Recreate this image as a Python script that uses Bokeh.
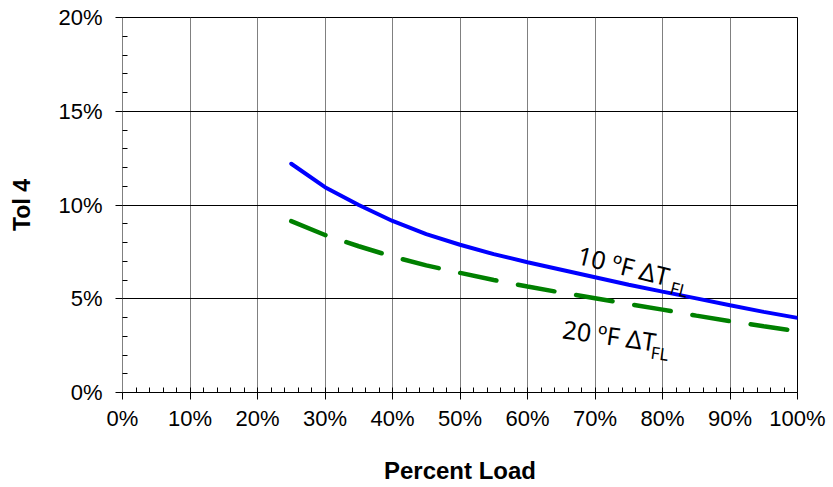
from bokeh.plotting import figure
from bokeh.models import FixedTicker, PrintfTickFormatter, Range1d, Label
from bokeh.embed import file_html
from bokeh.resources import INLINE

# ---- data (percent units) ----
load_pct = [25, 30, 35, 40, 45, 50, 55, 60, 65, 70, 75, 80, 85, 90, 95, 100]
tol_10F = [12.2, 10.95, 10.0, 9.15, 8.45, 7.88, 7.38, 6.95, 6.55, 6.15, 5.75, 5.38, 5.02, 4.65, 4.3, 3.98]
tol_20F = [9.14, 8.4, 7.8, 7.25, 6.78, 6.38, 6.0, 5.65, 5.33, 5.03, 4.72, 4.42, 4.1, 3.8, 3.53, 3.27]
x_ticks = [0, 10, 20, 30, 40, 50, 60, 70, 80, 90, 100]
y_ticks = [0, 5, 10, 15, 20]
x_minor = list(range(0, 101, 2))
y_minor = list(range(0, 21, 1))

FONT = "Liberation Sans"

p = figure(width=832, height=487,
           x_range=Range1d(0, 100), y_range=Range1d(0, 20),
           output_backend="svg", toolbar_location=None,
           min_border_left=122, min_border_right=35, min_border_top=17,
           min_border_bottom=95)
p.background_fill_color = "white"
p.border_fill_color = "white"
p.outline_line_color = "black"
p.outline_line_width = 1

# grid
p.xgrid.ticker = FixedTicker(ticks=x_ticks)
p.ygrid.ticker = FixedTicker(ticks=y_ticks)
p.xgrid.grid_line_color = "#808080"
p.xgrid.grid_line_width = 1
p.ygrid.grid_line_color = "black"
p.ygrid.grid_line_width = 1

# axes
p.xaxis.ticker = FixedTicker(ticks=x_ticks, minor_ticks=x_minor)
p.yaxis.ticker = FixedTicker(ticks=y_ticks, minor_ticks=y_minor)
p.xaxis.formatter = PrintfTickFormatter(format="%d%%")
p.yaxis.formatter = PrintfTickFormatter(format="%d%%")
for ax in (p.xaxis, p.yaxis):
    ax.major_tick_out = 7
    ax.major_tick_in = 0
    ax.minor_tick_in = 5
    ax.minor_tick_out = 0
    ax.major_tick_line_color = "black"
    ax.minor_tick_line_color = "black"
    ax.major_label_text_font = FONT
    ax.major_label_text_font_size = "22px"
    ax.major_label_text_color = "black"
    ax.axis_label_text_font = FONT
    ax.axis_label_text_font_size = "23px"
    ax.axis_label_text_font_style = "bold"
    ax.axis_label_text_color = "black"
p.xaxis.axis_label_text_font_size = "24px"
p.xaxis.axis_line_color = "black"
p.yaxis.axis_line_color = "#808080"
p.xaxis.major_label_standoff = 6
p.yaxis.major_label_standoff = 13
p.xaxis.axis_label = "Percent Load"
p.yaxis.axis_label = "Tol 4"
p.xaxis.axis_label_standoff = 23
p.yaxis.axis_label_standoff = 20

# series
p.line(load_pct, tol_10F, line_color="#0000FF", line_width=4, line_cap="round")
p.line(load_pct, tol_20F, line_color="#008000", line_width=4.5, line_cap="round",
       line_dash="37 22")

# curve labels
LF = "Noto Sans"
p.add_layout(Label(x=67.5, y=7.4, text="10 ºF ΔT", angle=-14, angle_units="deg",
                   text_font=LF, text_font_size="25px", text_color="black",
                   text_baseline="alphabetic"))
p.add_layout(Label(x=81.2, y=5.62, text="FL", angle=-14, angle_units="deg",
                   text_font=LF, text_font_size="17px", text_color="black",
                   text_baseline="alphabetic"))
p.add_layout(Label(x=65.25, y=3.42, text="20 ºF ΔT", angle=-8, angle_units="deg",
                   text_font=LF, text_font_size="25px", text_color="black",
                   text_baseline="alphabetic"))
p.add_layout(Label(x=78.3, y=2.15, text="FL", angle=-8, angle_units="deg",
                   text_font=LF, text_font_size="17px", text_color="black",
                   text_baseline="alphabetic"))

open("out.html", "w").write(file_html(p, INLINE))
